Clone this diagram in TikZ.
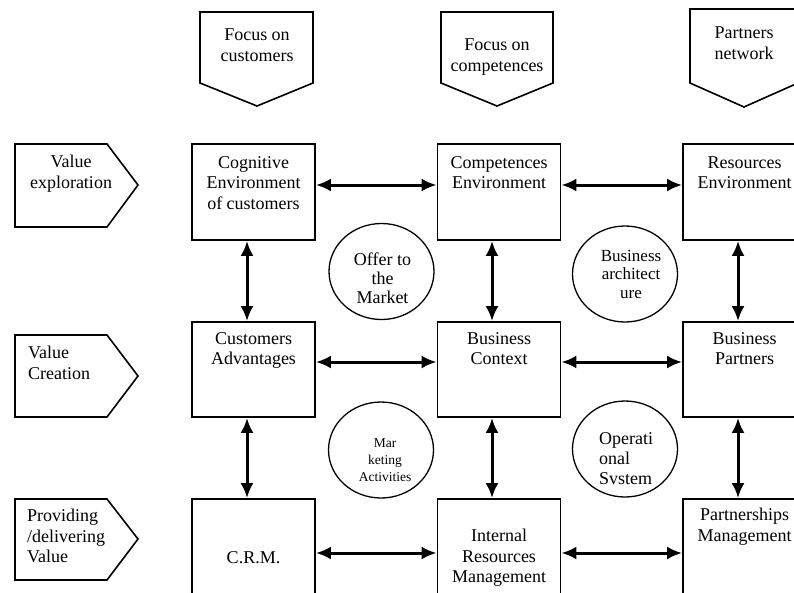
\documentclass[tikz,border=0pt]{standalone}
\usepackage{fontspec}
\setmainfont{Liberation Serif}
\usetikzlibrary{arrows.meta,shapes.geometric}
\tikzset{
  blok/.style={draw,line width=1.7pt,minimum width=123pt,inner sep=0pt,align=center,font=\fontsize{18}{20.5}\selectfont},
  ovl/.style={draw,ellipse,line width=1.3pt,minimum width=105pt,minimum height=96pt,inner sep=0pt},
  txt/.style={align=center,inner sep=0pt,font=\fontsize{18}{20.5}\selectfont},
  arw/.style={<->,line width=3pt},
  peak/.style={line width=1.6pt,line join=miter}
}
\begin{document}
\begin{tikzpicture}[>={Latex[length=15pt,width=13pt]},x=1pt,y=-1pt]
\useasboundingbox (0,0) rectangle (794,592);
\clip (0,0) rectangle (794,592);
% columns: what we focus on
\draw[peak] (200,12)--(313,12)--(313,83)--(257,106)--(200,83)--cycle;
\node[txt,anchor=north] (fcu) at (257,29){Focus on\\customers};
\draw[peak] (441,12)--(553,12)--(553,83)--(497,106)--(441,83)--cycle;
\node[txt,anchor=north] (fco) at (497,39){Focus on\\competences};
\draw[peak] (690,9)--(798,9)--(798,83)--(744,107)--(690,83)--cycle;
\node[txt,anchor=north] (pn) at (744,27){Partners\\network};
% rows: value chain
\draw[peak] (15,144)--(107,144)--(138,185)--(107,227)--(15,227)--cycle;
\node[txt,anchor=north] (vx) at (71,155){Value\\exploration};
\draw[peak] (15,335)--(107,335)--(138,376)--(107,417)--(15,417)--cycle;
\node[txt,anchor=north west,align=left] (vc) at (28,346){Value\\Creation};
\draw[peak] (15,499)--(107,499)--(138,539)--(107,580)--(15,580)--cycle;
\node[txt,anchor=north west,align=left] (pv) at (27,509){Providing\\/delivering\\Value};
% row 1
\node[blok,minimum height=96pt] (ce) at (253.5,192){};
\node[txt,anchor=north] (ce-t) at ([yshift=-13pt]ce.north){Cognitive\\Environment\\of customers};
\node[blok,minimum height=96pt] (co) at (499,192){};
\node[txt,anchor=north] (co-t) at ([yshift=-13pt]co.north){Competences\\Environment};
\node[blok,minimum height=96pt] (re) at (744.5,192){};
\node[txt,anchor=north] (re-t) at ([yshift=-13pt]re.north){Resources\\Environment};
% row 2
\node[blok,minimum height=95pt] (ca) at (253.5,369.5){};
\node[txt,anchor=north] (ca-t) at ([yshift=-11pt]ca.north){Customers\\Advantages};
\node[blok,minimum height=95pt] (bc) at (499,369.5){};
\node[txt,anchor=north] (bc-t) at ([yshift=-11pt]bc.north){Business\\Context};
\node[blok,minimum height=95pt] (bp) at (744.5,369.5){};
\node[txt,anchor=north] (bp-t) at ([yshift=-11pt]bp.north){Business\\Partners};
% row 3
\node[blok,minimum height=118pt] (crm) at (253.5,558){C.R.M.};
\node[blok,minimum height=118pt] (irm) at (499,558){Internal\\Resources\\Management};
\node[blok,minimum height=118pt] (pm) at (744.5,558){};
\node[txt,anchor=north] (pm-t) at ([yshift=-10pt]pm.north){Partnerships\\Management};
% ellipses
\node[ovl] (ot) at (381.5,271.5){};
\node[txt,anchor=north,font=\fontsize{18}{19}\selectfont] (ot-t) at (382.5,253){Offer to\\the\\Market};
\node[ovl] (ba) at (625,274){};
\node[txt,anchor=north,font=\fontsize{17}{18.5}\selectfont] (ba-t) at (631,250){Business\\architect\\ure};
\node[ovl] (ma) at (381,450){};
\node[txt,anchor=north,font=\fontsize{13.5}{17}\selectfont] (ma-t) at (385,438){Mar\\keting\\Activities};
\node[ovl] (os) at (625,449){};
\node[txt,anchor=north west,align=left,font=\fontsize{18}{20}\selectfont] (os-t) at (599,432){Operati\\onal\\Svstem};
% horizontal links
\draw[arw] ([yshift=7pt]ce.east)--([yshift=7pt]co.west);
\draw[arw] ([yshift=7pt]co.east)--([yshift=7pt]re.west);
\draw[arw] ([yshift=7.5pt]ca.east)--([yshift=7.5pt]bc.west);
\draw[arw] ([yshift=7.5pt]bc.east)--([yshift=7.5pt]bp.west);
\draw[arw] ([yshift=5pt]crm.east)--([yshift=5pt]irm.west);
\draw[arw] ([yshift=5pt]irm.east)--([yshift=5pt]pm.west);
% vertical links
\draw[arw] ([xshift=-6.5pt]ce.south)--([xshift=-6.5pt]ca.north);
\draw[arw] ([xshift=-6.5pt]ca.south)--([xshift=-6.5pt]crm.north);
\draw[arw] ([xshift=-7pt]co.south)--([xshift=-7pt]bc.north);
\draw[arw] ([xshift=-7pt]bc.south)--([xshift=-7pt]irm.north);
\draw[arw] ([xshift=-6.5pt]re.south)--([xshift=-6.5pt]bp.north);
\draw[arw] ([xshift=-6.5pt]bp.south)--([xshift=-6.5pt]pm.north);
\end{tikzpicture}
\end{document}
